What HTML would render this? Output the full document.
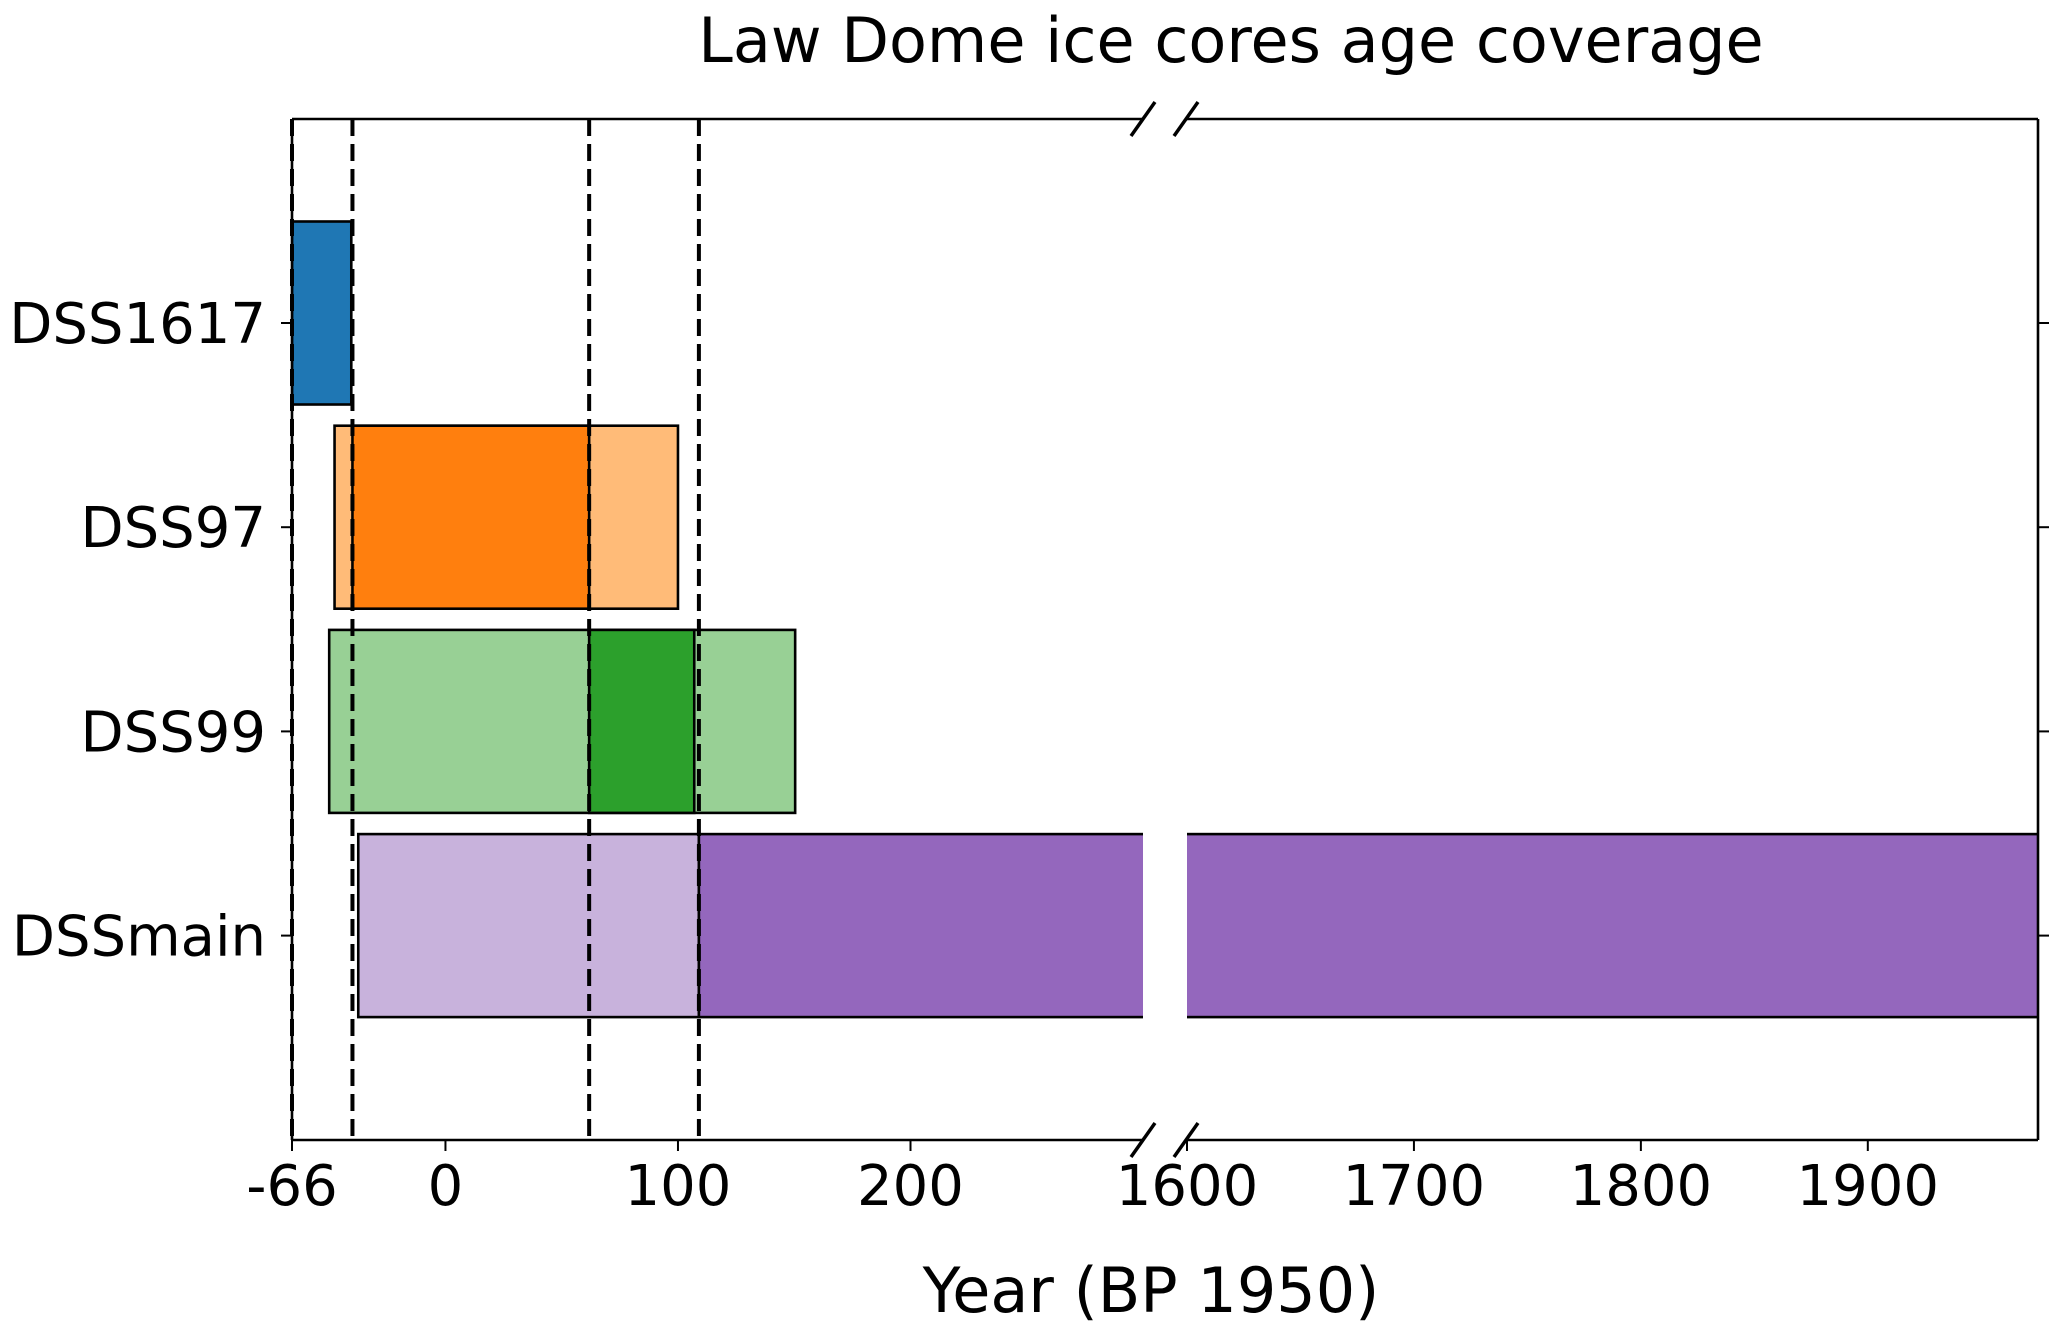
<!DOCTYPE html>
<html><head><meta charset="utf-8">
<style>
html,body{margin:0;padding:0;background:#fff;}
svg{display:block;font-family:"DejaVu Sans","Liberation Sans",sans-serif;}
</style></head>
<body>
<svg id="chart" width="2067" height="1327" viewBox="0 0 2067 1327">
  <defs>
    <clipPath id="clipL"><rect x="292" y="119" width="851" height="1021"/></clipPath>
    <clipPath id="clipR"><rect x="1187" y="119" width="851" height="1021"/></clipPath>
  </defs>
  <g id="barsL" clip-path="url(#clipL)"></g>
  <g id="barsR" clip-path="url(#clipR)"></g>
  <g id="dashes"></g>
  <g id="axes"></g>
  <text x="1231" y="62" font-size="62" text-anchor="middle">Law Dome ice cores age coverage</text>
  <text x="1151" y="1312" font-size="62" text-anchor="middle">Year (BP 1950)</text>
</svg>
<script>
const categories = ["DSS1617", "DSS97", "DSS99", "DSSmain"];
const lightStart = [null, -47.7, -50, -37.5];
const lightEnd = [null, 100, 150.4, 109];
const darkStart = [-66, -40, 61.8, 109];
const darkEnd = [-40.5, 61.8, 107, 1975];
const darkColors = ["#1f77b4", "#ff7f0e", "#2ca02c", "#9467bd"];
const lightColors = ["#aec7e8", "#ffbb78", "#98d095", "#c8b2dc"];
const refLines = [-66, -40, 61.8, 109];
const leftTicks = [-66, 0, 100, 200];
const rightTicks = [1600, 1700, 1800, 1900];

const NS = "http://www.w3.org/2000/svg";
const L0 = 292, L1 = 1143, R0 = 1187, R1 = 2038, TOP = 119, BOT = 1140;
const lMin = -66, lMax = 300, rMin = 1600, rMax = 1975;
function xL(v){ return L0 + (v - lMin) / (lMax - lMin) * (L1 - L0); }
function xR(v){ return R0 + (v - rMin) / (rMax - rMin) * (R1 - R0); }
function yTick(i){ return 323 + i * 204.2; }
function yBar(i){ return 313 + i * 204.2; }
const BH = 183;

function mk(tag, attrs, parent){
  const e = document.createElementNS(NS, tag);
  for (const k in attrs) e.setAttribute(k, attrs[k]);
  parent.appendChild(e);
  return e;
}
const gL = document.getElementById("barsL");
const gR = document.getElementById("barsR");
const gD = document.getElementById("dashes");
const gA = document.getElementById("axes");

function bar(parent, xf, a, b, i, fill, nm){
  const x0 = xf(a), x1 = xf(b);
  const r = mk("rect", {x: x0, y: yBar(i) - BH/2, width: x1 - x0, height: BH, fill: fill, stroke: "#000", "stroke-width": 2.6}, parent);
  
  
}
categories.forEach((c, i) => {
  if (lightStart[i] !== null) {
    bar(gL, xL, lightStart[i], lightEnd[i], i, lightColors[i], c.toLowerCase() + "-light-bar");
    bar(gR, xR, lightStart[i], lightEnd[i], i, lightColors[i], c.toLowerCase() + "-light-bar-right");
  }
  bar(gL, xL, darkStart[i], darkEnd[i], i, darkColors[i], c.toLowerCase() + "-dark-bar");
  bar(gR, xR, darkStart[i], darkEnd[i] + 20, i, darkColors[i], c.toLowerCase() + "-dark-bar-right");
});

refLines.forEach((v, k) => {
  const x = xL(v);
  const ln = mk("line", {x1: x, x2: x, y1: TOP, y2: BOT, stroke: "#000", "stroke-width": 4, "stroke-dasharray": "17,8"}, gD);
  
  
});

const sp = [
  [L0, TOP, L1, TOP], [L0, BOT, L1, BOT], [L0, TOP, L0, BOT],
  [R0, TOP, R1, TOP], [R0, BOT, R1, BOT], [R1, TOP, R1, BOT]
];
sp.forEach((s, k) => {
  const ln = mk("line", {x1: s[0], y1: s[1], x2: s[2], y2: s[3], stroke: "#000", "stroke-width": 2.6}, gA);
  
  
});
[[1143, TOP], [1186, TOP], [1143, BOT], [1186, BOT]].forEach((p, k) => {
  const ln = mk("line", {x1: p[0] - 12, y1: p[1] + 17, x2: p[0] + 12, y2: p[1] - 17, stroke: "#000", "stroke-width": 3.5}, gA);
  
  
});

function xtick(x, label, k){
  const t = mk("line", {x1: x, x2: x, y1: BOT, y2: BOT + 11, stroke: "#000", "stroke-width": 2}, gA);
  
  
  const tx = mk("text", {x: x, y: 1205, "font-size": 56, "text-anchor": "middle"}, gA);
  tx.textContent = label;
  
  
}
leftTicks.forEach((v, k) => xtick(xL(v), String(v), "l" + k));
rightTicks.forEach((v, k) => xtick(xR(v), String(v), "r" + k));

categories.forEach((c, i) => {
  const y = yTick(i);
  const t = mk("line", {x1: L0 - 11, x2: L0, y1: y, y2: y, stroke: "#000", "stroke-width": 2}, gA);
  
  
  const t2 = mk("line", {x1: R1, x2: R1 + 11, y1: y, y2: y, stroke: "#000", "stroke-width": 2}, gA);
  
  
  const tx = mk("text", {x: 266, y: y + 20, "font-size": 56, "text-anchor": "end"}, gA);
  tx.textContent = c;
  
  
});
</script>
</body></html>
